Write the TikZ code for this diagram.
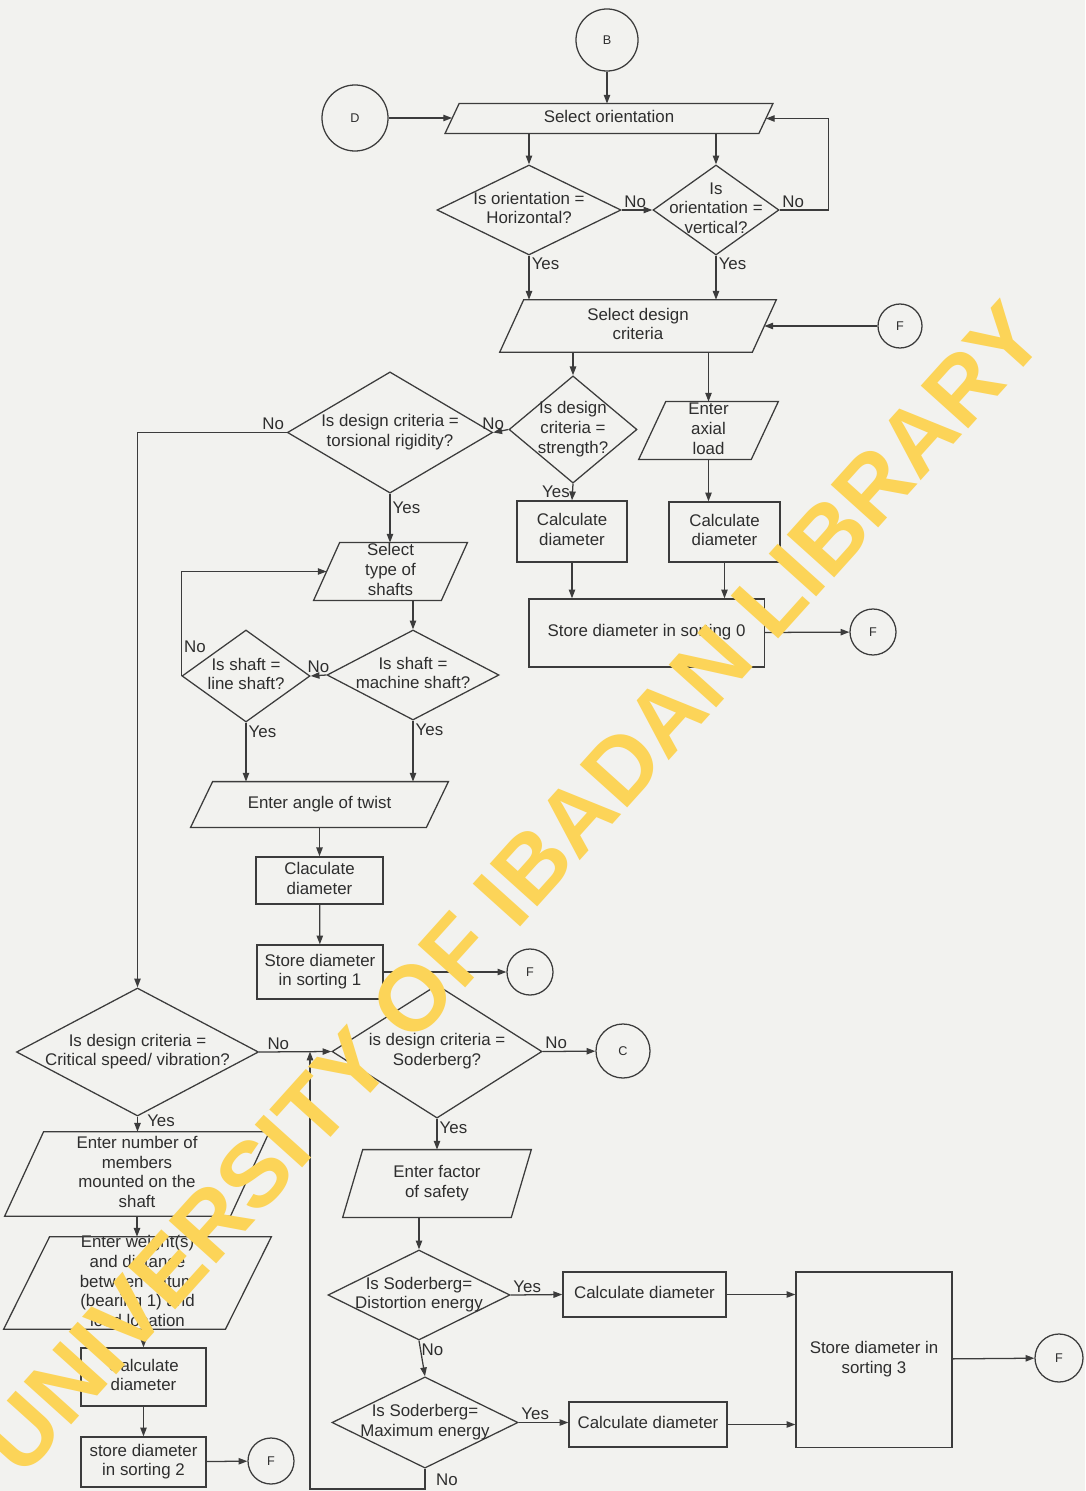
\documentclass[tikz,border=0pt]{standalone}
\usepackage{fontspec}
\setmainfont{Liberation Sans}
\usetikzlibrary{arrows.meta, shapes.geometric}
\definecolor{paperBg}{HTML}{F2F2EF}
\definecolor{inkLine}{HTML}{3C3C3C}
\definecolor{inkText}{HTML}{2E2E2E}
\definecolor{stampYellow}{HTML}{FCD458}
\newcommand{\dlines}[1]{\smash{\makebox[0pt]{\raisebox{-0.25em}{\begin{tabular}{@{}c@{}}#1\end{tabular}}}}}

\begin{document}
\begin{tikzpicture}[
    x=0.025cm, y=-0.025cm,
    every node/.style={text=inkText, font=\fontsize{12}{14.2}\selectfont},
    proc/.style={draw=inkLine, line width=0.9pt, rectangle, inner sep=0pt},
    dec/.style={draw=inkLine, line width=0.9pt, diamond, inner sep=0pt},
    io/.style={rectangle, inner sep=0pt},
    outline/.style={draw=inkLine, line width=0.9pt},
    conn/.style={draw=inkLine, line width=0.9pt, circle, inner sep=0pt, font=\fontsize{9}{10}\selectfont},
    lbl/.style={inner sep=1.5pt},
    arr/.style={-{Triangle[length=2.2mm, width=1.6mm]}, draw=inkLine, line width=0.9pt}
  ]
  \useasboundingbox (0,0) rectangle (1085,1491);
  \fill[paperBg] (0,0) rectangle (1085,1491);

  \node[conn, minimum size=1.55cm] (B) at (607,40) {B};
  \node[conn, minimum size=1.65cm] (D) at (355,118) {D};
  \node[io, minimum width=7.83cm, minimum height=0.73cm] (orient) at (609,118.5) {\dlines{Select orientation}};
  \node[dec, minimum width=4.6cm, minimum height=2.25cm] (horiz) at (529,210) {\dlines{Is orientation =\\Horizontal?}};
  \node[dec, minimum width=3.15cm, minimum height=2.25cm] (vert) at (716,210) {\dlines{Is\\orientation =\\vertical?}};
  \node[io, minimum width=6.3cm, minimum height=1.3cm] (design) at (638,326) {\dlines{Select design\\criteria}};
  \node[conn, minimum size=1.1cm] (F1) at (900,326) {F};
  \node[dec, minimum width=3.2cm, minimum height=2.68cm] (strength) at (573,429.5) {\dlines{Is design\\criteria =\\strength?}};
  \node[dec, minimum width=5.13cm, minimum height=3.03cm] (torsion) at (390,432.5) {\dlines{Is design criteria =\\torsional rigidity?}};
  \node[io, minimum width=2.8cm, minimum height=1.43cm] (axial) at (708.5,430.5) {\dlines{Enter\\axial\\load}};
  \node[proc, minimum width=2.75cm, minimum height=1.53cm] (calcS) at (572,531.5) {\dlines{Calculate\\diameter}};
  \node[proc, minimum width=2.78cm, minimum height=1.5cm] (calcA) at (724.5,532) {\dlines{Calculate\\diameter}};
  \node[proc, minimum width=5.88cm, minimum height=1.7cm] (store0) at (646.5,633) {\dlines{Store diameter in sorting 0}};
  \node[conn, minimum size=1.15cm] (F2) at (873,632) {F};
  \node[io, minimum width=3.18cm, minimum height=1.43cm] (shaft) at (390.5,571.5) {\dlines{Select\\type of\\shafts}};
  \node[dec, minimum width=4.3cm, minimum height=2.25cm] (machine) at (413,675) {\dlines{Is shaft =\\machine shaft?}};
  \node[dec, minimum width=3.2cm, minimum height=2.3cm] (lineshaft) at (246,676) {\dlines{Is shaft =\\line shaft?}};
  \node[io, minimum width=5.88cm, minimum height=1.13cm] (twist) at (319.5,804.5) {\dlines{Enter angle of twist}};
  \node[proc, minimum width=3.18cm, minimum height=1.18cm] (calcT) at (319.5,880.5) {\dlines{Claculate\\diameter}};
  \node[proc, minimum width=3.15cm, minimum height=1.35cm] (store1) at (320,972) {\dlines{Store diameter\\in sorting 1}};
  \node[conn, minimum size=1.15cm] (F3) at (530,972) {F};
  \node[dec, minimum width=6.05cm, minimum height=3.2cm] (critical) at (137.5,1052) {\dlines{Is design criteria =\\Critical speed/ vibration?}};
  \node[dec, minimum width=5.25cm, minimum height=3.33cm] (soder) at (437,1051.5) {\dlines{is design criteria =\\Soderberg?}};
  \node[conn, minimum size=1.35cm] (C) at (623,1051) {C};
  \node[io, minimum width=5.63cm, minimum height=2.1cm] (members) at (137,1174) {\dlines{Enter number of\\members\\mounted on the\\shaft}};
  \node[io, minimum width=5.53cm, minimum height=2.3cm] (weights) at (137.5,1283) {\dlines{Enter weight(s)\\and distance\\between datum\\(bearing 1) and\\load location}};
  \node[proc, minimum width=3.13cm, minimum height=1.45cm] (calcC) at (143.5,1377) {\dlines{Calculate\\diameter}};
  \node[proc, minimum width=3.13cm, minimum height=1.25cm] (store2) at (143.5,1462) {\dlines{store diameter\\in sorting 2}};
  \node[conn, minimum size=1.15cm] (F4) at (271,1461) {F};
  \node[io, minimum width=4.2cm, minimum height=1.68cm] (factor) at (437,1183.5) {\dlines{Enter factor\\of safety}};
  \node[dec, minimum width=4.55cm, minimum height=2.25cm] (distort) at (419,1295) {\dlines{Is Soderberg=\\Distortion energy}};
  \node[dec, minimum width=4.65cm, minimum height=2.28cm] (maxe) at (425,1422.5) {\dlines{Is Soderberg=\\Maximum energy}};
  \node[proc, minimum width=4.08cm, minimum height=1.13cm] (calcD) at (644.5,1294.5) {\dlines{Calculate diameter}};
  \node[proc, minimum width=3.95cm, minimum height=1.13cm] (calcM) at (648,1424.5) {\dlines{Calculate diameter}};
  \node[proc, minimum width=3.9cm, minimum height=4.38cm] (store3) at (874,1359.5) {\dlines{Store diameter in\\sorting 3}};
  \node[conn, minimum size=1.2cm] (F5) at (1059,1358) {F};
  \coordinate (loopcorner) at (310,1489);

  \foreach \n/\s in {orient/7, design/12, axial/13.5, shaft/13, twist/11, factor/10, members/19.5, weights/23}
    \draw[outline] ([xshift=\s*0.025cm]\n.north west) -- ([xshift=\s*0.025cm]\n.north east)
      -- ([xshift=-\s*0.025cm]\n.south east) -- ([xshift=-\s*0.025cm]\n.south west) -- cycle;

  \draw[arr] (B) -- (B |- orient.north);
  \draw[arr] (D) -- (D -| orient.west);
  \draw[arr] (horiz |- orient.south) -- (horiz.north);
  \draw[arr] (vert |- orient.south) -- (vert.north);
  \draw[arr] (horiz.east) -- node[lbl, pos=0, anchor=south west] {No} (vert.west);
  \draw[arr] (vert.east) node[lbl, anchor=south west] {No} -- ++(49,0) |- (orient.east);
  \draw[arr] (horiz.south) -- node[lbl, pos=0, anchor=north west] {Yes} (horiz |- design.north);
  \draw[arr] (vert.south) -- node[lbl, pos=0, anchor=north west] {Yes} (vert |- design.north);
  \draw[arr] (F1) -- (design.east);
  \draw[arr] (strength |- design.south) -- (strength.north);
  \draw[arr] (axial |- design.south) -- (axial.north);
  \draw[arr] (strength.west) -- node[lbl, pos=1, anchor=south] {No} (torsion.east);
  \draw[arr] (strength.south) -- node[lbl, pos=0.5, anchor=east] {Yes} (calcS.north);
  \draw[arr] (axial.south) -- (axial |- calcA.north);
  \draw[arr] (calcS) -- (calcS |- store0.north);
  \draw[arr] (calcA) -- (calcA |- store0.north);
  \draw[arr] (store0) -- (F2);
  \draw[arr] (torsion.west) node[lbl, anchor=south east] {No} -| (critical.north);
  \draw[arr] (torsion.south) -- node[lbl, pos=0, anchor=north west, yshift=-4pt] {Yes} (torsion |- shaft.north);
  \draw[arr] (machine |- shaft.south) -- (machine.north);
  \draw[arr] (machine.west) -- node[lbl, anchor=south] {No} (lineshaft.east);
  \draw[arr] (lineshaft.west) |- node[lbl, pos=0.14, anchor=west] {No} (shaft.west);
  \draw[arr] (lineshaft.south) -- node[lbl, pos=0, anchor=north west] {Yes} (lineshaft |- twist.north);
  \draw[arr] (machine.south) -- node[lbl, pos=0, anchor=north west] {Yes} (machine |- twist.north);
  \draw[arr] (twist.south) -- (calcT.north);
  \draw[arr] (calcT) -- (store1);
  \draw[arr] (store1) -- (F3);
  \draw[arr] (critical.east) -- node[lbl, pos=0, anchor=south west, xshift=4pt] {No} (soder.west);
  \draw[arr] (soder.east) -- node[lbl, pos=0, anchor=south west] {No} (C);
  \draw[arr] (critical.south) -- node[lbl, pos=0.25, anchor=west, xshift=5pt] {Yes} (critical |- members.north);
  \draw[arr] (members.south) -- (members |- weights.north);
  \draw[arr] (calcC |- weights.south) -- (calcC.north);
  \draw[arr] (calcC) -- (store2);
  \draw[arr] (store2) -- (F4);
  \draw[arr] (soder.south) -- node[lbl, pos=0, anchor=north west] {Yes} (soder |- factor.north);
  \draw[arr] (distort |- factor.south) -- (distort.north);
  \draw[arr] (distort.east) -- node[lbl, pos=0, anchor=south west] {Yes} (calcD.west);
  \draw[arr] (distort.south) -- node[lbl, pos=0, anchor=north west] {No} (maxe.north);
  \draw[arr] (maxe.east) -- node[lbl, pos=0, anchor=south west] {Yes} (calcM.west |- maxe.east);
  \draw[arr] (calcD) -- (calcD -| store3.west);
  \draw[arr] (calcM) -- (calcM -| store3.west);
  \draw[arr] (store3) -- (F5);
  \draw[arr] (maxe.south) node[lbl, anchor=north west, xshift=6pt, yshift=-2pt] {No} |- (loopcorner) -- (loopcorner |- soder.west);

  \node[rotate=48, text=stampYellow, font=\fontsize{66}{70}\selectfont\bfseries] (stamp) at (512,888) {UNIVERSITY OF IBADAN LIBRARY};
\end{tikzpicture}
\end{document}
